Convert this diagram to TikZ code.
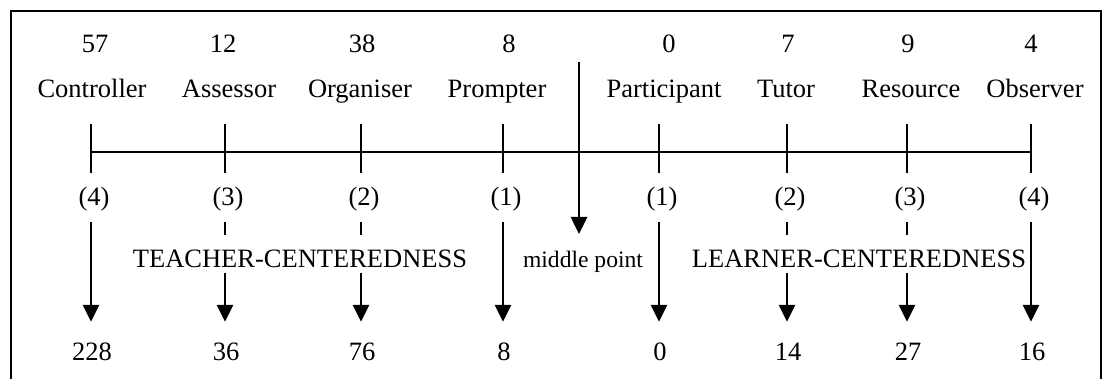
\documentclass[tikz,border=0pt]{standalone}
\usepackage{fontspec}
\setmainfont{Liberation Serif}
\usetikzlibrary{arrows.meta}
\begin{document}
\begin{tikzpicture}[x=1pt,y=-1pt,
  lbl/.style={inner sep=0pt, anchor=base, font=\fontsize{26.5}{30}\selectfont},
  wgt/.style={lbl, text height=18pt, text depth=16pt},
  prod/.style={lbl, text height=38pt, text depth=0pt},
  zone/.style={lbl, fill=white, text height=32pt, text depth=6pt},
  arr/.style={line width=2.6pt, -{Triangle[width=16pt,length=17pt]}},
  tickline/.style={line width=2pt},
  frameline/.style={line width=2.4pt}
]
\useasboundingbox (0,0) rectangle (1110,379);

% open frame
\draw[frameline] (11,379) -- (11,11) -- (1101,11) -- (1101,379);

% scale positions on the axis
\foreach \i/\x in {1/91,2/225,3/361,4/503,5/659,6/787,7/907,8/1031}
  \coordinate (tk\i) at (\x,152);

% axis and ticks
\draw[tickline] (tk1) -- (tk8);
\foreach \i in {1,...,8}
  \draw[tickline] (tk\i) ++(0,-28) -- ++(0,49);

% middle point marker
\coordinate (mtop) at (579,62);
\coordinate (mtip) at (579,234);
\draw[arr] (mtop) -- (mtip);

% counts and roles
\foreach \i/\cx/\n/\rx/\r in {1/95/57/92/Controller,2/223/12/229/Assessor,
    3/362/38/360/Organiser,4/509/8/497/Prompter,5/669/0/664/Participant,
    6/788/7/786/Tutor,7/908/9/911/Resource,8/1031/4/1035/Observer}{
  \node[lbl] (n\i) at (\cx,53) {\n};
  \node[lbl] (role\i) at (\rx,98) {\r};
}

% weights and weighted scores
\foreach \i/\x/\w/\p in {1/91/4/228,2/225/3/36,3/361/2/76,4/503/1/8,
    5/659/1/0,6/787/2/14,7/907/3/27,8/1031/4/16}{
  \node[wgt] (w\i) at (\x+3,206) {(\w)};
  \node[prod] (p\i) at (\x+1,360) {\p};
  \draw[arr] (w\i.south -| tk\i) -- (p\i.north -| tk\i);
}

% zone labels
\node[zone] (teach) at (300,267) {TEACHER-CENTEREDNESS};
\node[zone] (learn) at (859,267) {LEARNER-CENTEREDNESS};
\node[lbl, font=\fontsize{23.6}{28}\selectfont] (midlbl) at (583,267) {middle point};
\end{tikzpicture}
\end{document}
